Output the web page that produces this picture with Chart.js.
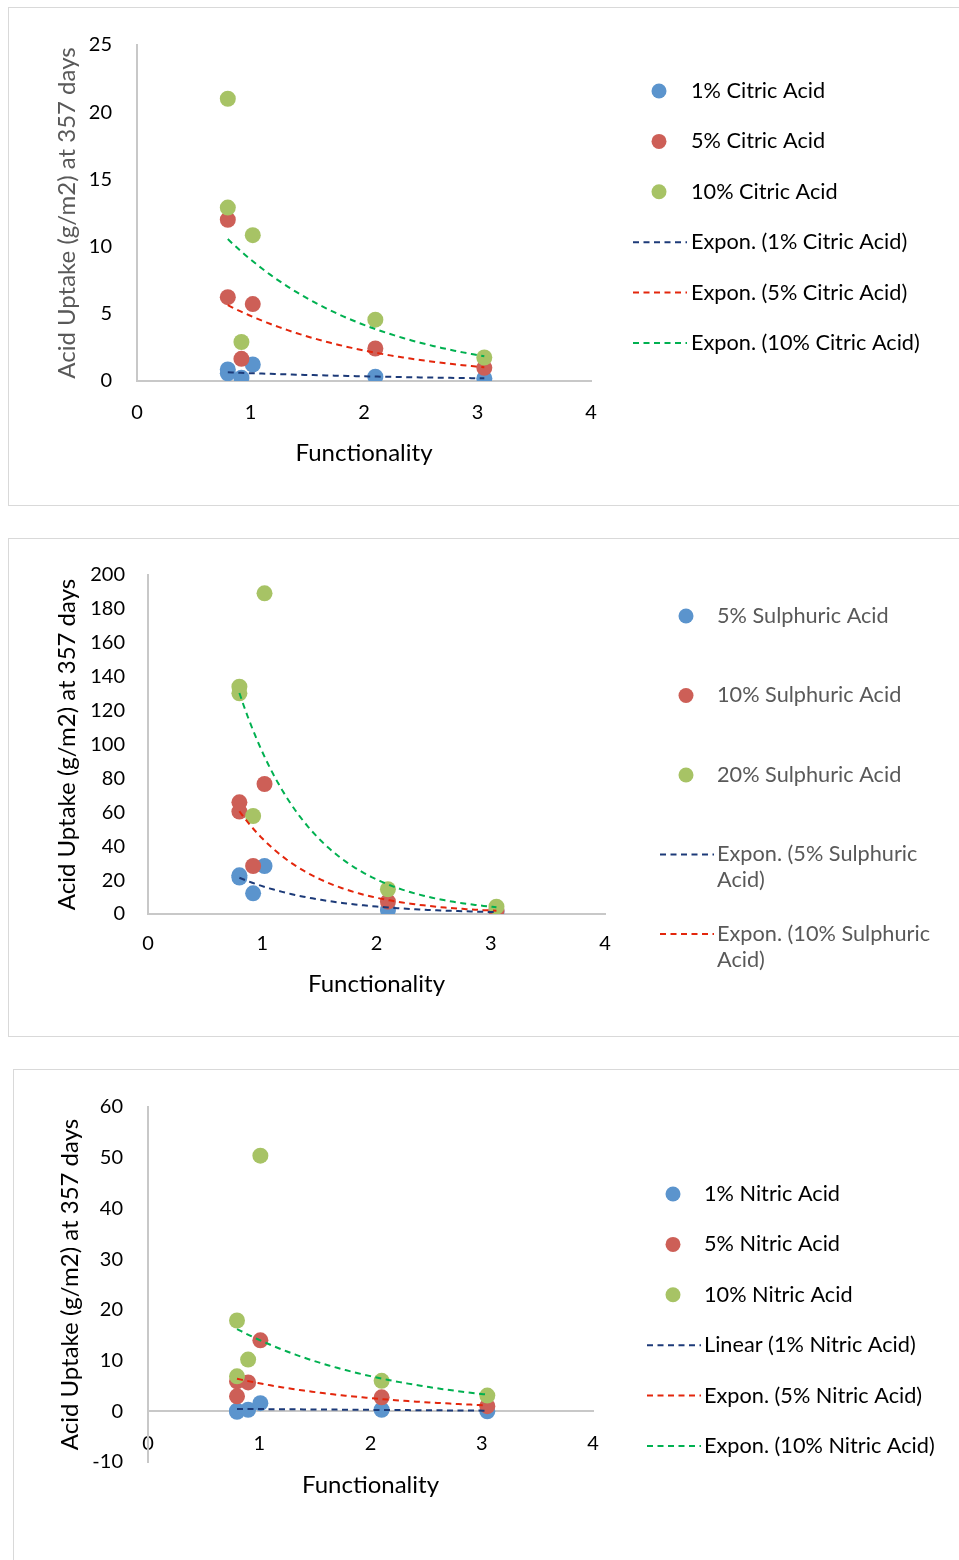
<!DOCTYPE html>
<html>
<head>
<meta charset="utf-8">
<script src="https://cdn.jsdelivr.net/npm/chart.js@4.4.1/dist/chart.umd.min.js"></script>
<style>
  html, body { margin: 0; padding: 0; background: #fff; overflow: hidden; width: 959px; height: 1560px; }
  .box { position: absolute; width: 980px; height: 497px; border: 1px solid #d9d9d9; background: #fff; }
  .box canvas { display: block; }
</style>
</head>
<body>
<div class="box" style="left:8px;top:7px"><canvas id="citricChart" width="958" height="497"></canvas></div>
<div class="box" style="left:8px;top:538px"><canvas id="sulphuricChart" width="958" height="497"></canvas></div>
<div class="box" style="left:13px;top:1069px"><canvas id="nitricChart" width="958" height="497"></canvas></div>
<script>
// ===== data =====
const xTicks = [0, 1, 2, 3, 4];

// citric acid
const citricX = [0.8, 0.8, 0.92, 1.02, 2.1, 3.06];
const citric1 = [0.86, 0.57, 0.25, 1.23, 0.32, 0.2];
const citric5 = [12.0, 6.24, 1.65, 5.72, 2.42, 0.98];
const citric10 = [21.0, 12.9, 2.9, 10.85, 4.56, 1.75];
const citricLabels = ['1% Citric Acid', '5% Citric Acid', '10% Citric Acid'];
const citricYTicks = [0, 5, 10, 15, 20, 25];

// sulphuric acid
const sulphX = [0.8, 0.8, 0.92, 1.02, 2.1, 3.05];
const sulph5 = [22.8, 21.5, 12.2, 28.3, 2.4, 1.4];
const sulph10 = [65.9, 60.4, 28.3, 76.7, 7.3, 2.0];
const sulph20 = [134.1, 130.2, 57.8, 189.2, 14.6, 4.3];
const sulphLabels = ['5% Sulphuric Acid', '10% Sulphuric Acid', '20% Sulphuric Acid'];
const sulphYTicks = [0, 20, 40, 60, 80, 100, 120, 140, 160, 180, 200];

// nitric acid
const nitricX = [0.8, 0.8, 0.9, 1.01, 2.1, 3.05];
const nitric1 = [-0.1, 0.1, 0.3, 1.6, 0.3, 0.0];
const nitric5 = [5.9, 2.95, 5.7, 14.0, 2.75, 1.0];
const nitric10 = [17.9, 6.9, 10.2, 50.4, 6.0, 3.1];
const nitricLabels = ['1% Nitric Acid', '5% Nitric Acid', '10% Nitric Acid'];
const nitricYTicks = [-10, 0, 10, 20, 30, 40, 50, 60];

// ===== colours =====
const dotColors = ['#5B94CD', '#CD5F57', '#A7C365'];
const trendColors = ['#1C3A78', '#E3260C', '#00B050'];
const FONT = 'Lato, "Liberation Sans", sans-serif';
Chart.defaults.font.family = FONT;

// ===== trend line helpers (least squares like Excel) =====
function linFit(xs, ys) {
  const n = xs.length;
  const mx = xs.reduce((a, b) => a + b, 0) / n;
  const my = ys.reduce((a, b) => a + b, 0) / n;
  let sxy = 0, sxx = 0;
  xs.forEach((x, i) => { sxy += (x - mx) * (ys[i] - my); sxx += (x - mx) * (x - mx); });
  const b = sxy / sxx;
  return x => my + b * (x - mx);
}
function expFit(xs, ys) {
  const f = linFit(xs, ys.map(v => Math.log(v)));
  return x => Math.exp(f(x));
}
function trendPoints(xs, fn) {
  const lo = Math.min(...xs), hi = Math.max(...xs);
  const pts = [];
  for (let i = 0; i <= 60; i++) {
    const x = lo + (hi - lo) * i / 60;
    pts.push({ x: x, y: fn(x) });
  }
  return pts;
}
const toPts = (xs, ys) => xs.map((x, i) => ({ x: x, y: ys[i] }));

function dotSet(label, xs, ys, k) {
  return {
    label: label,
    data: toPts(xs, ys),
    backgroundColor: dotColors[k],
    borderColor: dotColors[k],
    pointRadius: 8,
    pointHoverRadius: 8,
    pointBorderWidth: 0,
    order: 3 - k
  };
}
function trendSet(label, xs, ys, k, kind, legendText, hideInLegend) {
  const fn = kind === 'Linear' ? linFit(xs, ys) : expFit(xs, ys);
  return {
    label: kind + ' (' + label + ')',
    legendText: legendText,
    hideInLegend: hideInLegend,
    trend: true,
    data: trendPoints(xs, fn),
    showLine: true,
    borderColor: trendColors[k],
    backgroundColor: trendColors[k],
    borderWidth: 2,
    borderDash: [6, 4.5],
    pointRadius: 0,
    pointHoverRadius: 0,
    order: 0
  };
}

// 自定义图例，按 Excel 的样子画在右侧
const excelLegend = {
  id: 'excelLegend',
  afterDraw(chart, args, opts) {
    const ctx = chart.ctx;
    ctx.save();
    ctx.font = opts.font;
    ctx.textBaseline = 'middle';
    ctx.textAlign = 'left';
    let y = opts.top;
    chart.data.datasets.forEach(ds => {
      if (ds.hideInLegend) return;
      if (ds.trend) {
        ctx.strokeStyle = ds.borderColor;
        ctx.lineWidth = 2;
        ctx.setLineDash([6, 4.5]);
        ctx.beginPath();
        ctx.moveTo(opts.lineX0, y);
        ctx.lineTo(opts.lineX1, y);
        ctx.stroke();
        ctx.setLineDash([]);
      } else {
        ctx.fillStyle = ds.backgroundColor;
        ctx.beginPath();
        ctx.arc(opts.dotX, y, 7.5, 0, Math.PI * 2);
        ctx.fill();
      }
      ctx.fillStyle = opts.color;
      (ds.legendText || [ds.label]).forEach((t, i) => ctx.fillText(t, opts.textX, y + i * opts.lineGap));
      y += opts.rowGap;
    });
    ctx.restore();
  }
};

function makeChart(id, cfg) {
  return new Chart(document.getElementById(id), {
    type: 'scatter',
    data: { datasets: cfg.datasets },
    plugins: [excelLegend],
    options: {
      responsive: false,
      animation: false,
      layout: { padding: cfg.padding },
      plugins: {
        legend: { display: false },
        tooltip: { enabled: false },
        excelLegend: cfg.legend
      },
      scales: {
        x: {
          type: 'linear',
          position: cfg.xPosition || 'bottom',
          min: 0, max: 4,
          afterBuildTicks: s => { s.ticks = xTicks.map(v => ({ value: v })); },
          afterFit: s => { s.height = cfg.xHeight; },
          grid: { display: false, drawTicks: false },
          border: { display: true, color: '#c8c8c8', width: 2 },
          ticks: { color: '#000', padding: cfg.xTickPad, font: { size: 20 } },
          title: { display: true, text: 'Functionality', color: '#000', font: { size: 24 }, padding: { top: 0, bottom: cfg.xTitlePad } }
        },
        y: {
          type: 'linear',
          min: cfg.yTicks[0], max: cfg.yTicks[cfg.yTicks.length - 1],
          afterBuildTicks: s => { s.ticks = cfg.yTicks.map(v => ({ value: v })); },
          afterFit: s => { s.width = cfg.yWidth; },
          grid: { display: false, drawTicks: false },
          border: { display: true, color: '#c8c8c8', width: 2 },
          ticks: { color: '#000', padding: cfg.yTickPad, font: { size: 20 } },
          title: { display: true, text: 'Acid Uptake (g/m2) at 357 days', color: cfg.yTitleColor, font: { size: 24 }, padding: { top: cfg.yTitlePad, bottom: 0 } }
        }
      }
    }
  });
}

// ===== 柠檬酸 =====
makeChart('citricChart', {
  datasets: [
    dotSet(citricLabels[0], citricX, citric1, 0),
    dotSet(citricLabels[1], citricX, citric5, 1),
    dotSet(citricLabels[2], citricX, citric10, 2),
    trendSet(citricLabels[0], citricX, citric1, 0, 'Expon.'),
    trendSet(citricLabels[1], citricX, citric5, 1, 'Expon.'),
    trendSet(citricLabels[2], citricX, citric10, 2, 'Expon.')
  ],
  padding: { left: 0, top: 35, right: 376, bottom: 0 },
  yTicks: citricYTicks, yWidth: 128, yTickPad: 25, yTitlePad: 44, yTitleColor: '#595959',
  xHeight: 124, xTickPad: 20, xTitlePad: 37,
  legend: { font: '21.7px ' + FONT, color: '#000', top: 83, rowGap: 50.4, lineGap: 26, dotX: 650, textX: 682, lineX0: 624, lineX1: 678 }
});

// ===== 硫酸 =====
makeChart('sulphuricChart', {
  datasets: [
    dotSet(sulphLabels[0], sulphX, sulph5, 0),
    dotSet(sulphLabels[1], sulphX, sulph10, 1),
    dotSet(sulphLabels[2], sulphX, sulph20, 2),
    trendSet(sulphLabels[0], sulphX, sulph5, 0, 'Expon.', ['Expon. (5% Sulphuric', 'Acid)']),
    trendSet(sulphLabels[1], sulphX, sulph10, 1, 'Expon.', ['Expon. (10% Sulphuric', 'Acid)']),
    trendSet(sulphLabels[2], sulphX, sulph20, 2, 'Expon.', null, true)
  ],
  padding: { left: 0, top: 36, right: 362, bottom: 0 },
  yTicks: sulphYTicks, yWidth: 139, yTickPad: 23, yTitlePad: 44, yTitleColor: '#000',
  xHeight: 122, xTickPad: 18, xTitlePad: 37,
  legend: { font: '21.7px ' + FONT, color: '#595959', top: 77, rowGap: 79.5, lineGap: 26, dotX: 677, textX: 708, lineX0: 651, lineX1: 705 }
});

// ===== 硝酸 =====
makeChart('nitricChart', {
  datasets: [
    dotSet(nitricLabels[0], nitricX, nitric1, 0),
    dotSet(nitricLabels[1], nitricX, nitric5, 1),
    dotSet(nitricLabels[2], nitricX, nitric10, 2),
    trendSet(nitricLabels[0], nitricX, nitric1, 0, 'Linear'),
    trendSet(nitricLabels[1], nitricX, nitric5, 1, 'Expon.'),
    trendSet(nitricLabels[2], nitricX, nitric10, 2, 'Expon.')
  ],
  padding: { left: 0, top: 36, right: 379, bottom: 105 },
  xPosition: { y: 0 },
  yTicks: nitricYTicks, yWidth: 134, yTickPad: 25, yTitlePad: 42, yTitleColor: '#000',
  xHeight: 100, xTickPad: 20, xTitlePad: 12,
  legend: { font: '21.7px ' + FONT, color: '#000', top: 124, rowGap: 50.4, lineGap: 26, dotX: 659, textX: 690, lineX0: 633, lineX1: 687 }
});
</script>
</body>
</html>
